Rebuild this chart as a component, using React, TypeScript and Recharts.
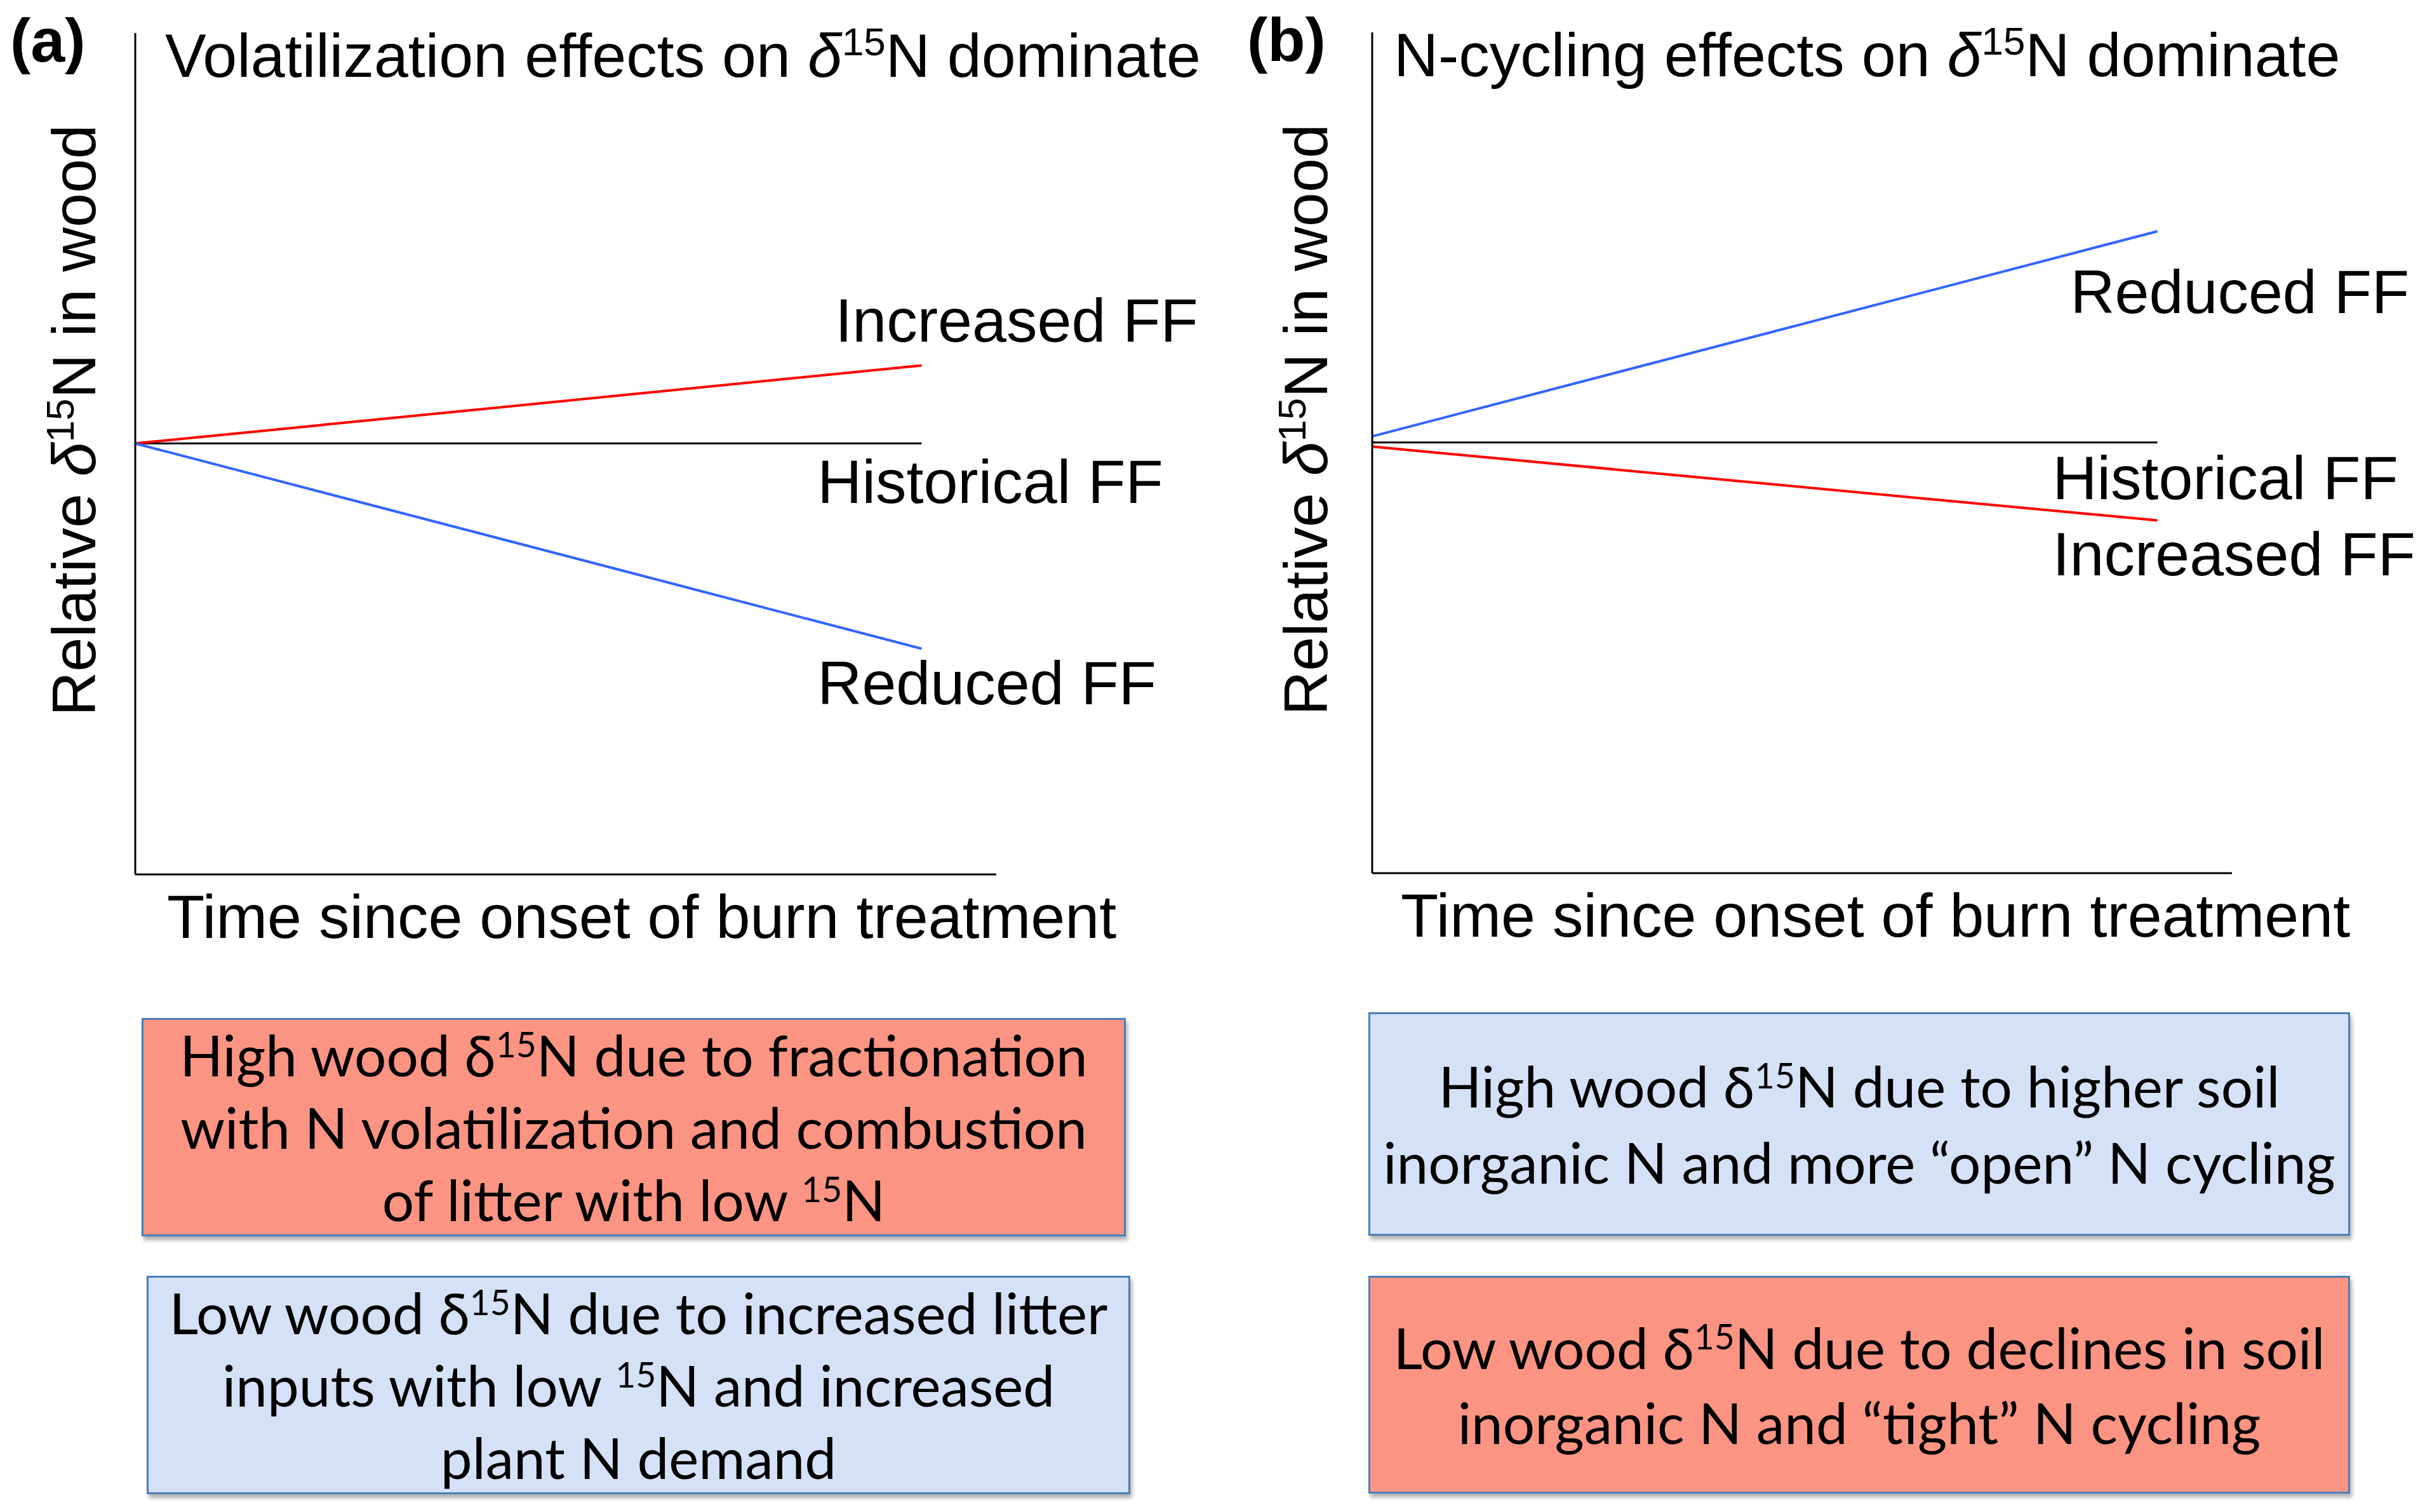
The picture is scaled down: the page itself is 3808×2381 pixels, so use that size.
import { LineChart, Line, XAxis, YAxis, Label, LabelList } from 'recharts'

// schematic values (relative units, 0 = historical level)
const timePoints = [0, 1]
const aIncreased = [0, 0.19]
const aHistorical = [0, 0]
const aReduced = [0, -0.5]
const bReduced = [0.015, 0.515]
const bHistorical = [0, 0]
const bIncreased = [-0.01, -0.19]

const panelTitles = ['Volatilization effects on ', 'N-cycling effects on ']
const panelTags = ['(a)', '(b)']
const yLabel = ['Relative ', ' in wood']
const xLabel = 'Time since onset of burn treatment'
const seriesNames = { increased: 'Increased FF', historical: 'Historical FF', reduced: 'Reduced FF' }

const boxA1 = ['High wood δ^{15}N due to fractionation', 'with N volatilization and combustion', 'of litter with low ^{15}N']
const boxA2 = ['Low wood δ^{15}N due to increased litter', 'inputs with low ^{15}N and increased', 'plant N demand']
const boxB1 = ['High wood δ^{15}N due to higher soil', 'inorganic N and more “open” N cycling']
const boxB2 = ['Low wood δ^{15}N due to declines in soil', 'inorganic N and “tight” N cycling']

const RED = '#ff0000'
const BLUE = '#3366ff'
const FONT = '"Liberation Sans", Arial, sans-serif'
const FS = 97

const rowsA = timePoints.map((t, i) => ({ t, increased: aIncreased[i], historical: aHistorical[i], reduced: aReduced[i] }))
const rowsB = timePoints.map((t, i) => ({ t, increased: bIncreased[i], historical: bHistorical[i], reduced: bReduced[i] }))

const Delta15 = () => (
    <>
        <tspan fontStyle="italic">δ</tspan>
        <tspan dy={-34} fontSize={62}>15</tspan>
        <tspan dy={34}>N</tspan>
    </>
)

function endLabel(text: string, dx: number, dy: number) {
    return (props: any) => {
        if (props.index !== timePoints.length - 1) return null
        const x = props.x ?? props.viewBox?.x
        const y = props.y ?? props.viewBox?.y
        return (
            <text x={x + dx} y={y + dy} fontSize={FS} fontFamily={FONT} fill="#000">
                {text}
            </text>
        )
    }
}

interface PanelProps {
    idx: number
    rows: any[]
    left: number
    margin: { top: number; right: number; bottom: number; left: number }
    offsets: { increased: [number, number]; historical: [number, number]; reduced: [number, number] }
    yLabelDx: number
    xLabelDx: number
    titleDx: number
}

function Panel({ idx, rows, left, margin, offsets, yLabelDx, xLabelDx, titleDx }: PanelProps) {
    const xLabelEl = (
        <Label content={(p: any) => {
            const vb = p.viewBox
            return (
                <text x={vb.x + xLabelDx} y={vb.y + 100} fontSize={FS} fontFamily={FONT} fill="#000">
                    {xLabel}
                </text>
            )
        }} />
    )
    const yLabelEl = (
        <Label content={(p: any) => {
            const vb = p.viewBox
            const ax = vb.x + vb.width
            const cx = ax - yLabelDx
            const cy = vb.y + 610
            return (
                <g>
                    <text x={cx} y={cy} transform={`rotate(-90 ${cx} ${cy})`} textAnchor="middle"
                        fontSize={FS} fontFamily={FONT} fill="#000">
                        {yLabel[0]}<Delta15 />{yLabel[1]}
                    </text>
                    <text x={ax + titleDx} y={vb.y + 69} fontSize={FS} fontFamily={FONT} fill="#000">
                        {panelTitles[idx]}<Delta15 /> dominate
                    </text>
                    <text x={ax - 197} y={vb.y + 45} fontSize={FS} fontWeight="bold" fontFamily={FONT} fill="#000">
                        {panelTags[idx]}
                    </text>
                </g>
            )
        }} />
    )
    return (
        <div style={{ position: 'absolute', left, top: 0 }}>
            <LineChart width={1904} height={1560} data={rows} margin={margin}>
                <XAxis type="number" dataKey="t" domain={[0, 1.095]} height={2} tick={false} tickLine={false}
                    axisLine={{ stroke: '#000', strokeWidth: 3 }} label={xLabelEl} />
                <YAxis type="number" domain={[-1.05, 1]} width={2} tick={false} tickLine={false} allowDataOverflow
                    axisLine={{ stroke: '#000', strokeWidth: 3 }} label={yLabelEl} />
                <Line type="linear" dataKey="historical" stroke="#000" strokeWidth={3} dot={false} isAnimationActive={false}>
                    <LabelList content={endLabel(seriesNames.historical, ...offsets.historical)} />
                </Line>
                <Line type="linear" dataKey="increased" stroke={RED} strokeWidth={4} dot={false} isAnimationActive={false}>
                    <LabelList content={endLabel(seriesNames.increased, ...offsets.increased)} />
                </Line>
                <Line type="linear" dataKey="reduced" stroke={BLUE} strokeWidth={4} dot={false} isAnimationActive={false}>
                    <LabelList content={endLabel(seriesNames.reduced, ...offsets.reduced)} />
                </Line>
            </LineChart>
        </div>
    )
}

function rich(s: string) {
    const parts = s.split(/\^\{(\d+)\}/)
    return parts.map((p, i) =>
        i % 2 === 1
            ? <span key={i} style={{ fontSize: '62%', lineHeight: 0, position: 'relative', top: '-0.55em' }}>{p}</span>
            : <span key={i}>{p}</span>
    )
}

function NoteBox({ lines, left, top, width, height, fill, lineHeight }: {
    lines: string[]; left: number; top: number; width: number; height: number; fill: string; lineHeight: number
}) {
    return (
        <div style={{
            position: 'absolute', left, top, width, height, boxSizing: 'border-box',
            background: fill, border: '3px solid #4a7ebb', boxShadow: '3px 6px 6px rgba(0,0,0,0.3)',
            display: 'flex', flexDirection: 'column', justifyContent: 'center', alignItems: 'center',
            fontFamily: 'Lato, "Open Sans", sans-serif', fontSize: 89, color: '#000',
            whiteSpace: 'nowrap',
        }}>
            {lines.map((l, i) => <div key={i} style={{ height: lineHeight, lineHeight: `${lineHeight}px` }}>{rich(l)}</div>)}
        </div>
    )
}

export default function App() {
    return (
        <div style={{ position: 'absolute', left: 0, top: 0, width: 3808, height: 2381, background: '#fff', overflow: 'hidden' }}>
            <Panel idx={0} rows={rowsA} left={0}
                margin={{ top: 52, right: 335, bottom: 181, left: 211 }}
                offsets={{ increased: [-136, -38], historical: [-164, 94], reduced: [-164, 87] }}
                yLabelDx={63} xLabelDx={50} titleDx={47} />
            <Panel idx={1} rows={rowsB} left={1904}
                margin={{ top: 51, right: 293, bottom: 183, left: 255 }}
                offsets={{ increased: [-165, 86], historical: [-165, 89], reduced: [-137, 129] }}
                yLabelDx={71} xLabelDx={45} titleDx={34} />
            <NoteBox lines={boxA1} left={223} top={1603} width={1550} height={344} fill="#fb9483" lineHeight={114} />
            <NoteBox lines={boxA2} left={231} top={2009} width={1549} height={344} fill="#d5e1f6" lineHeight={114} />
            <NoteBox lines={boxB1} left={2155} top={1594} width={1546} height={352} fill="#d5e1f6" lineHeight={120} />
            <NoteBox lines={boxB2} left={2155} top={2009} width={1546} height={343} fill="#fb9483" lineHeight={118} />
        </div>
    )
}
